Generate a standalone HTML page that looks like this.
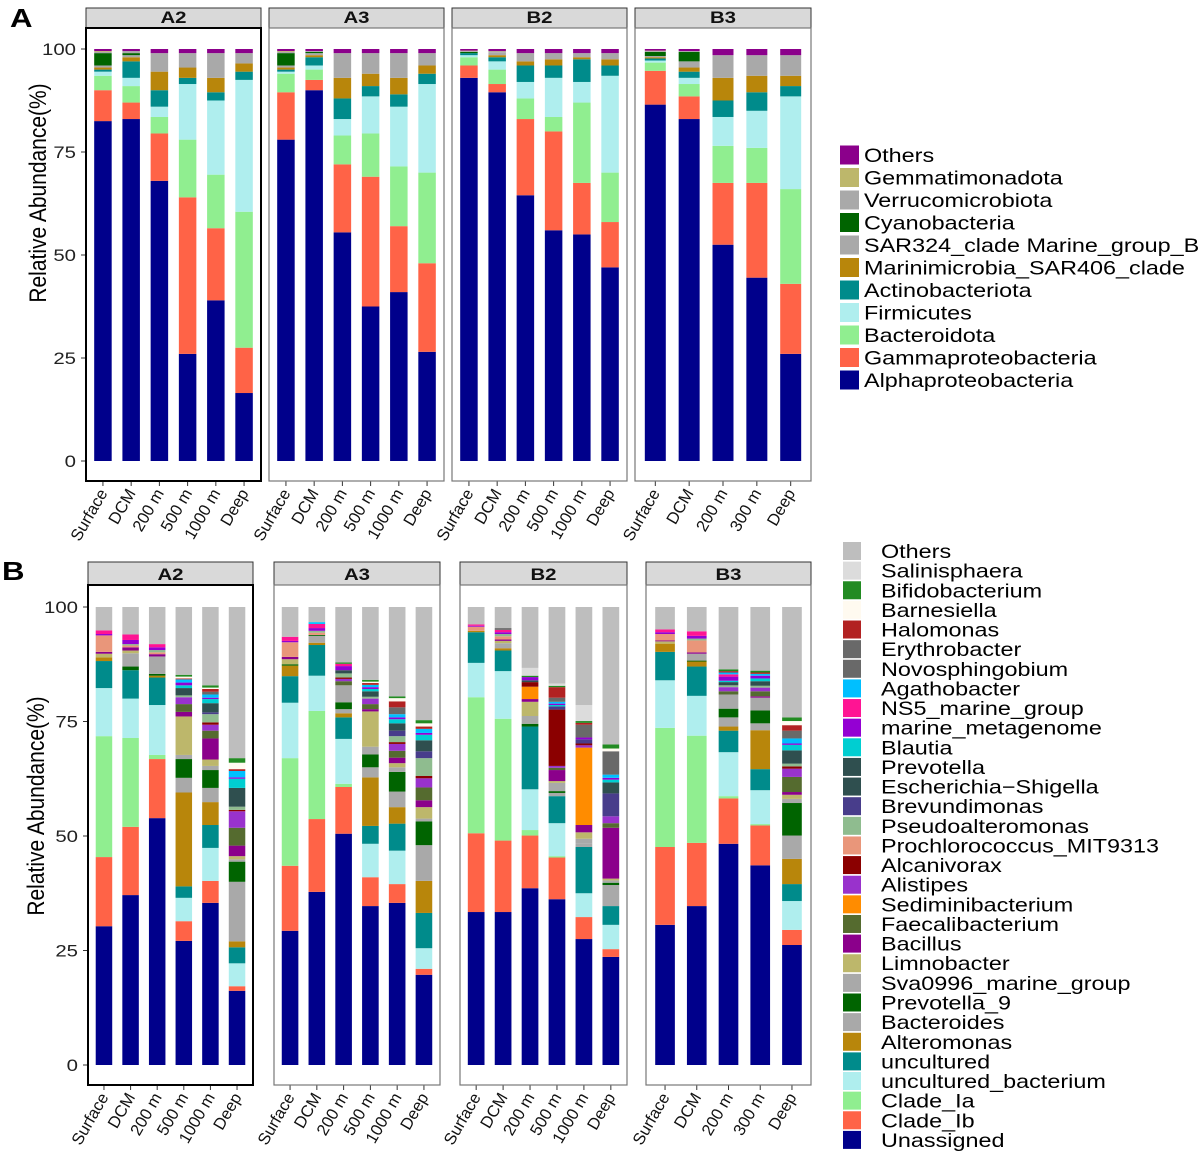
<!DOCTYPE html>
<html><head><meta charset="utf-8">
<style>
html,body{margin:0;padding:0;background:#fff;}
svg{display:block;font-family:"Liberation Sans",Arial,sans-serif;}
</style></head>
<body>
<svg id="chart" width="1204" height="1154" viewBox="0 0 1204 1154" xmlns="http://www.w3.org/2000/svg"></svg>
<script>
// ---------- shared data ----------
const facetNames = ["A2","A3","B2","B3"];
const depthsA2 = ["Surface","DCM","200 m","500 m","1000 m","Deep"];
const depthsA3 = ["Surface","DCM","200 m","500 m","1000 m","Deep"];
const depthsB2 = ["Surface","DCM","200 m","500 m","1000 m","Deep"];
const depthsB3 = ["Surface","DCM","200 m","300 m","Deep"];
const yTicks = [0,25,50,75,100];

// ---------- panel A (phylum) : stacked bottom->top ----------
const phylaA = ["Alphaproteobacteria","Gammaproteobacteria","Bacteroidota","Firmicutes","Actinobacteriota","Marinimicrobia_SAR406_clade","SAR324_clade Marine_group_B","Cyanobacteria","Verrucomicrobiota","Gemmatimonadota","Others"];
const colorsA = ["#00008B","#FF6347","#90EE90","#AFEEEE","#008B8B","#B8860B","#A9A9A9","#006400","#A9A9A9","#BDB76B","#8B008B"];
const aAlpha = [82.5,83,68,26,39,16.5, 78,90,55.5,37.5,41,26.5, 93,89.5,64.5,56,55,47, 86.5,83,52.5,44.5,26];
const aGamma = [7.5,4,11.5,38,17.5,11, 11.5,2.5,16.5,31.5,16,21.5, 3,2,18.5,24,12.5,11, 8.2,5.5,15,23,17];
const aBact  = [3.5,4,4,14,13,33, 4.5,2.5,7,10.5,14.5,22, 2,3.5,5,3.5,19.5,12, 2,3,9,8.5,23];
const aFirm  = [1,2,2.5,13.5,18,32, 0.5,1,4,9,14.5,21.5, 0.5,2,4,9.5,5,23.5, 0.5,1.5,7,9,22.5];
const aActino= [0.5,4,4,1.5,2,2, 0.5,2,5,2.5,3,2.5, 0.5,1,4,3,5.5,2.5, 0.5,1.5,4,4.5,2.5];
const aMarini= [0.5,1,4.5,2.5,3.5,2, 0.5,0.5,5,3,4,2, 0,0.5,1,1.5,0.5,1.5, 0.3,1,5.5,4,2.5];
const aSAR324= [0.5,0.5,4.5,3.5,6,2.5, 0.5,0.5,6,5,6,3, 0,0.7,2,1.5,1,1.5, 0.3,1.5,5.5,5,5];
const aCyano = [3,0.5,0,0,0,0, 3,0.3,0,0,0,0, 0.3,0,0,0,0,0, 1,2.3,0,0,0];
const aVerr  = [0.3,0.5,0,0,0,0, 0.3,0.2,0,0,0,0, 0.2,0.2,0,0,0,0, 0.2,0.2,0,0,0];
const aGem   = [0.2,0,0,0,0,0, 0.2,0,0,0,0,0, 0.1,0.1,0,0,0,0, 0.1,0,0,0,0];
const aOthers= [0.5,0.5,1,1,1,1, 0.5,0.5,1,1,1,1, 0.4,0.5,1,1,1,1, 0.4,0.5,1.5,1.5,1.5];
const seriesA = [aAlpha,aGamma,aBact,aFirm,aActino,aMarini,aSAR324,aCyano,aVerr,aGem,aOthers];

// ---------- panel B (genus) : stacked bottom->top ----------
const generaB = ["Unassigned","Clade_Ib","Clade_Ia","uncultured_bacterium","uncultured","Alteromonas","Bacteroides","Prevotella_9","Sva0996_marine_group","Limnobacter","Bacillus","Faecalibacterium","Sediminibacterium","Alistipes","Alcanivorax","Prochlorococcus_MIT9313","Pseudoalteromonas","Brevundimonas","Escherichia\u2212Shigella","Prevotella","Blautia","marine_metagenome","NS5_marine_group","Agathobacter","Novosphingobium","Erythrobacter","Halomonas","Barnesiella","Bifidobacterium","Salinisphaera","Others"];
const colorsB = ["#00008B","#FF6347","#90EE90","#AFEEEE","#008B8B","#B8860B","#A9A9A9","#006400","#A9A9A9","#BDB76B","#8B008B","#556B2F","#FF8C00","#9932CC","#8B0000","#E9967A","#8FBC8F","#483D8B","#2F4F4F","#2F4F4F","#00CED1","#9400D3","#FF1493","#00BFFF","#696969","#696969","#B22222","#FFFAF0","#228B22","#DCDCDC","#BEBEBE"];
const bUnassigned = [30.3,37.1,53.9,27.1,35.4,16.2, 29.3,37.8,50.5,34.7,35.4,19.7, 33.4,33.4,38.6,36.2,27.5,23.6, 30.6,34.7,48.3,43.6,26.2];
const bCladeIb    = [15.1,14.9,12.9,4.3,4.8,1.0, 14.2,15.9,10.2,6.3,4.1,1.3, 17.2,15.6,11.5,9.1,4.8,1.7, 17.0,13.8,9.9,8.7,3.3];
const bCladeIa    = [26.4,19.4,0.9,0,0,0, 23.5,23.6,0.7,0,0,0, 29.7,26.6,1.2,0.3,0,0, 26.0,23.4,0.5,0.3,0];
const bUncBact    = [10.5,8.6,10.9,5.1,7.2,5.0, 12.1,7.7,9.8,7.3,7.3,4.5, 7.5,10.4,8.9,7.2,5.2,5.3, 10.4,8.7,9.6,7.4,6.3];
const bUncult     = [5.9,6.2,6.0,2.5,5.0,3.5, 5.8,6.7,4.7,3.9,5.9,7.7, 6.7,4.5,13.7,5.9,10.1,4.1, 6.2,6.4,4.7,4.6,3.7];
const bAlteromonas= [0.8,0,0.4,20.5,5.0,1.3, 2.3,0.5,0.9,10.6,3.6,7.0, 0.3,0.5,0,0,0,0, 1.8,1.1,0.9,8.5,5.5];
const bBacteroides= [0,0,0,3.2,3.1,13.0, 0,1.5,0.9,2.2,3.4,7.8, 0,0.7,0,0.7,0.8,4.6, 0,0,2.0,1.5,5.1];
const bPrevotella9= [0,0.8,0.4,4.1,3.9,4.4, 0.3,0.2,1.5,2.8,4.3,5.2, 0,0,0.6,0.4,0,0.5, 0,0.2,1.9,2.8,7.1];
const bSva0996    = [0,2.9,3.8,0.9,0.9,0.5, 0,0,3.7,1.7,1.0,0.6, 0,0.4,1.7,1.8,1.0,0.5, 0,1.5,3.1,2.8,0.9];
const bLimnobacter= [0.8,0.6,0,8.4,1.4,0.7, 1.1,0,0,7.7,0.9,2.5, 0,0.5,3.1,0.4,1.4,0.4, 0.5,0,0,0,0.9];
const bBacillus   = [0.4,0.7,0.5,1.0,4.6,2.3, 0.5,0,0,0.5,1.2,1.5, 0,0.3,0.6,2.4,1.6,11.1, 0.2,0.3,0,0.3,0.6];
const bFaecali    = [0,0,0,1.7,1.7,3.9, 0,0,0.9,1.1,1.5,2.8, 0,0,0,0.5,0,1.0, 0,0,0.7,1.1,3.3];
const bSedimini   = [0,0,0,0,0,0, 0,0,0,0,0,0, 0,0,2.7,0,16.9,0, 0,0,0,0,0];
const bAlistipes  = [0,0,0,1.5,1.3,3.6, 0,0,0.5,1.2,1.5,2.0, 0,0,0,0.4,0.5,1.5, 0,0,0.9,0.8,1.8];
const bAlcanivorax= [0,0,0,0,0.5,0.3, 0,0,0.3,0,0.4,0.5, 0,0,1.0,12.3,0.4,0, 0,0,0,0,0.5];
const bProchloro  = [3.6,0.4,0.4,0,0,0, 3.2,0.5,0,0,0,0, 0.9,0.7,0,0,0,0, 1.4,2.6,0,0,0];
const bPseudoalt  = [0,0.3,0.5,0.4,1.8,0.7, 0,0.4,0.9,0.4,1.3,3.9, 0,0.5,0,0,0,0, 0,0.4,0.4,0.4,0.6];
const bBrevundi   = [0,0,0,0,0.4,0, 0,0,0,0,1.2,1.5, 0,0,0,0.7,0.9,5.0, 0,0,0,0,0];
const bEscherichia= [0,0,0,0,0,0, 0,0,0,0,0,0, 0,0,0,0,0,0, 0,0,0,0,0];
const bPrevotella = [0,0,0,1.6,2.0,4.1, 0,0,0.7,1.2,1.6,2.4, 0,0,0.4,0,0,2.4, 0,0,0.7,1.0,2.9];
const bBlautia    = [0,0,0,0.6,0.9,2.0, 0,0,0,0.5,0.9,1.2, 0,0,0,0.3,0,0.6, 0,0,0.3,0.6,1.2];
const bMarineMeta = [0.3,0.9,0.6,0.6,0.3,0.3, 0.3,0.6,0.9,0.4,0.4,0.4, 0.2,0.4,0.7,0.3,0.4,0.4, 0.4,0.6,0.9,0.6,0.3];
const bNS5        = [0.8,1.2,0.7,0,0,0, 0.9,0.9,0.5,0,0,0, 0.3,0.5,0,0,0,0, 0.6,1.0,0.5,0,0];
const bAgathob    = [0,0,0,0.7,0.7,1.4, 0,0.4,0,0.5,0.7,0.9, 0,0,0,0.4,0,0.7, 0,0,0.4,0.4,1.1];
const bNovosph    = [0,0,0,0,0,0, 0,0,0,0,0,0, 0,0,0,0,0,0, 0,0,0,0,0];
const bErythro    = [0,0,0,0,0.6,0, 0,0,0,0,1.5,0, 0,0.4,0,0.9,2.8,5.1, 0,0,0,0,1.7];
const bHalomonas  = [0,0,0,0.2,0.6,0.4, 0,0,0,0.4,1.3,0.5, 0,0,0,2.3,0.4,0, 0,0,0.3,0.3,1.2];
const bBarnesiella= [0,0,0,0.4,0.3,1.4, 0,0,0,0.3,0.7,0.7, 0,0,0,0,0,0.6, 0,0,0,0,0.9];
const bBifido     = [0,0,0,0.4,0.5,1.0, 0,0,0.3,0.4,0.4,0.7, 0,0,0.3,0.3,0.4,0.9, 0,0,0.4,0.4,0.8];
const bSalinis    = [0,0,0,0,0,0, 0,0,0,0,0,0, 0,0,1.7,0.5,3.5,0, 0,0,0,0,0];
const bOthers     = [5.1,6.0,8.1,14.8,17.1,33.0, 6.5,3.3,12.1,15.9,19.5,24.7, 3.8,4.6,13.3,16.7,21.4,30.0, 4.9,5.3,13.6,13.9,24.1];
const seriesB = [bUnassigned,bCladeIb,bCladeIa,bUncBact,bUncult,bAlteromonas,bBacteroides,bPrevotella9,bSva0996,bLimnobacter,bBacillus,bFaecali,bSedimini,bAlistipes,bAlcanivorax,bProchloro,bPseudoalt,bBrevundi,bEscherichia,bPrevotella,bBlautia,bMarineMeta,bNS5,bAgathob,bNovosph,bErythro,bHalomonas,bBarnesiella,bBifido,bSalinis,bOthers];

// ---------- drawing ----------
const NS="http://www.w3.org/2000/svg";
const svg=document.getElementById('chart');
const SX=1.2; // horizontal text stretch
function mk(tag,attrs,parent){const e=document.createElementNS(NS,tag);for(const k in attrs)e.setAttribute(k,attrs[k]);(parent||svg).appendChild(e);return e;}
const depthLists=[depthsA2,depthsA3,depthsB2,depthsB3];

function drawPanel(cfg){
  const g=mk('g',{});
  
  
  const yScale=v=>cfg.y0+(cfg.y100-cfg.y0)*v/100;
  const L=mk('text',{x:0,y:0,'font-size':26,'font-weight':'bold',fill:'#000',transform:`translate(${cfg.letterX},${cfg.letterY}) scale(${SX},1)`},g);
  L.textContent=cfg.letter;
  
  
  const yt=mk('text',{x:0,y:0,'font-size':20,'text-anchor':'middle',fill:'#000',transform:`translate(${cfg.yTitleX},${cfg.yTitleY}) rotate(-90) scale(1.05,${SX})`},g);
  yt.textContent='Relative Abundance(%)';
  
  
  yTicks.forEach(t=>{
    const y=yScale(t);
    const tl=mk('text',{x:0,y:0,'font-size':17,'text-anchor':'end',fill:'#222',transform:`translate(${cfg.facets[0][0]-10},${y+6}) scale(${SX},1)`},g);
    tl.textContent=String(t);
    
    
    const tk=mk('line',{x1:cfg.facets[0][0]-5,x2:cfg.facets[0][0],y1:y,y2:y,stroke:'#333','stroke-width':1},g);
    
    
  });
  let barIdx=0;
  cfg.facets.forEach((f,fi)=>{
    const [x0,x1]=f;const w=x1-x0;
    const depths=depthLists[fi];
    const n=depths.length;
    const step=w/(n+0.2);
    const bw=step*0.62;
    const st=mk('rect',{x:x0,y:cfg.stripTop,width:w,height:cfg.plotTop-cfg.stripTop,fill:'#D9D9D9',stroke:'#333','stroke-width':1},g);
    
    
    const stt=mk('text',{x:0,y:0,'font-size':17,'font-weight':'bold','text-anchor':'middle',fill:'#111',transform:`translate(${x0+w/2},${cfg.plotTop-5}) scale(${SX},1)`},g);
    stt.textContent=facetNames[fi];
    
    
    for(let i=0;i<n;i++){
      const cx=x0+step*(0.6+i);
      let cum=0;
      cfg.series.forEach((arr,si)=>{
        const v=arr[barIdx];
        if(v>0){
          const yTop=yScale(cum+v),yBot=yScale(cum);
          const r=mk('rect',{x:cx-bw/2,y:yTop,width:bw,height:Math.max(0.1,yBot-yTop),fill:cfg.colors[si]},g);
          
          
        }
        cum+=v;
      });
      const tk=mk('line',{x1:cx,x2:cx,y1:cfg.plotBot,y2:cfg.plotBot+5,stroke:'#333','stroke-width':1},g);
      
      
      const xl=mk('text',{x:0,y:0,'font-size':15,'text-anchor':'end',fill:'#111',transform:`translate(${cx+5},${cfg.plotBot+12}) rotate(-60) scale(1.1,1.1)`},g);
      xl.textContent=depths[i];
      
      
      barIdx++;
    }
    const fr=mk('rect',{x:x0,y:cfg.plotTop,width:w,height:cfg.plotBot-cfg.plotTop,fill:'none',stroke:fi===0?'#000':'#777','stroke-width':fi===0?2:1.2},g);
    
    
  });
  cfg.legendOrder.forEach((si,k)=>{
    const y=cfg.legY0+k*cfg.legStep;
    const sw=mk('rect',{x:cfg.legX,y:y-cfg.sw/2,width:cfg.sw,height:cfg.sw,fill:cfg.colors[si]},g);
    
    
    const t=mk('text',{x:0,y:0,'font-size':cfg.legFont,fill:'#000',transform:`translate(${cfg.legTextX},${y+7}) scale(${SX},1)`},g);
    t.textContent=cfg.labels[si];
    
    
  });
}

const revA=phylaA.map((_,i)=>phylaA.length-1-i);
drawPanel({name:'panel-a-phylum',letter:'A',letterX:10,letterY:27,yTitleX:46,yTitleY:193,y0:461,y100:49,
  facets:[[86,261],[269,444],[452,627],[635,811]],stripTop:8,plotTop:28,plotBot:481,
  series:seriesA,colors:colorsA,labels:phylaA,legendOrder:revA,
  legX:840,legTextX:864,legY0:155,legStep:22.5,sw:19,legFont:19.5});
const revB=generaB.map((_,i)=>generaB.length-1-i);
drawPanel({name:'panel-b-genus',letter:'B',letterX:2,letterY:580,yTitleX:44,yTitleY:806,y0:1065,y100:607,
  facets:[[88,253],[274,440],[460,627],[646,811]],stripTop:562,plotTop:585,plotBot:1085,
  series:seriesB,colors:colorsB,labels:generaB,legendOrder:revB,
  legX:843,legTextX:881,legY0:551,legStep:19.63,sw:18,legFont:19.5});
</script>
</body></html>
